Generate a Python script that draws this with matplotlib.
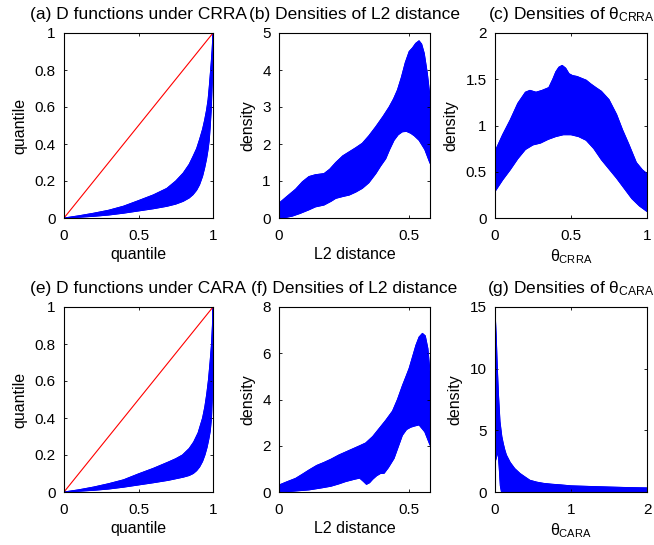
import numpy as np
import matplotlib
matplotlib.use("Agg")
import matplotlib.pyplot as plt

plt.rcParams['font.family'] = ['Liberation Sans', 'DejaVu Sans']
plt.rcParams['mathtext.fontset'] = 'custom'
plt.rcParams['mathtext.rm'] = 'Liberation Sans'
plt.rcParams['mathtext.it'] = 'Liberation Sans'
plt.rcParams['mathtext.bf'] = 'Liberation Sans:bold'

BLUE = (0, 0, 1)
RED = (1, 0, 0)

# ---------------- data ----------------
# (a) D functions under CRRA: envelope of the blue band
a_up_x = [0, 0.1, 0.2, 0.3, 0.4, 0.5, 0.6, 0.69, 0.75, 0.8, 0.84, 0.866, 0.89, 0.91, 0.93, 0.944,
          0.957, 0.967, 0.975, 0.982, 0.988, 0.994, 1.0]
a_up_y = [0, 0.012, 0.026, 0.042, 0.064, 0.094, 0.125, 0.16, 0.2, 0.243, 0.29, 0.333, 0.375, 0.425,
          0.48, 0.53, 0.585, 0.64, 0.71, 0.78, 0.84, 0.91, 1.0]
a_lo_x = [0, 0.1, 0.2, 0.3, 0.4, 0.5, 0.6, 0.69, 0.75, 0.8, 0.84, 0.866, 0.89, 0.91, 0.93, 0.944,
          0.957, 0.967, 0.975, 0.982, 0.988, 0.995, 1.0]
a_lo_y = [0, 0.004, 0.009, 0.016, 0.026, 0.038, 0.05, 0.063, 0.075, 0.09, 0.108, 0.126, 0.15, 0.18,
          0.225, 0.27, 0.32, 0.37, 0.42, 0.5, 0.58, 0.73, 1.0]

# (e) D functions under CARA
e_up_x = [0, 0.1, 0.2, 0.3, 0.4, 0.5, 0.6, 0.7, 0.75, 0.795, 0.84, 0.87, 0.9, 0.915, 0.93, 0.945,
          0.958, 0.97, 0.98, 0.99, 0.996, 1.0]
e_up_y = [0, 0.012, 0.027, 0.045, 0.066, 0.098, 0.128, 0.162, 0.18, 0.2, 0.235, 0.27, 0.32, 0.36,
          0.4, 0.46, 0.53, 0.61, 0.7, 0.8, 0.9, 1.0]
e_lo_x = [0, 0.1, 0.2, 0.3, 0.4, 0.5, 0.6, 0.7, 0.8, 0.84, 0.868, 0.89, 0.91, 0.93, 0.946, 0.96,
          0.972, 0.982, 0.99, 0.995, 1.0]
e_lo_y = [0, 0.004, 0.009, 0.016, 0.026, 0.038, 0.05, 0.063, 0.08, 0.089, 0.1, 0.115, 0.135, 0.165,
          0.2, 0.24, 0.285, 0.33, 0.4, 0.5, 1.0]

diag = [0, 1]

# (b) densities of L2 distance (CRRA)
b_up_x = [0, 0.03, 0.064, 0.09, 0.115, 0.14, 0.173, 0.195, 0.218, 0.245, 0.27, 0.295, 0.32, 0.345,
          0.372, 0.4, 0.423, 0.44, 0.455, 0.47, 0.485, 0.5, 0.513, 0.525, 0.538, 0.548, 0.558, 0.57, 0.58]
b_up_y = [0.4, 0.58, 0.78, 0.98, 1.12, 1.17, 1.2, 1.32, 1.5, 1.68, 1.79, 1.9, 2.02, 2.22,
          2.47, 2.75, 3.0, 3.22, 3.46, 3.8, 4.2, 4.5, 4.6, 4.72, 4.79, 4.7, 4.45, 3.9, 3.28]
b_lo_x = [0, 0.03, 0.051, 0.08, 0.115, 0.14, 0.173, 0.2, 0.218, 0.245, 0.27, 0.295, 0.32, 0.345,
          0.372, 0.39, 0.41, 0.425, 0.442, 0.458, 0.474, 0.49, 0.506, 0.52, 0.538, 0.56, 0.58]
b_lo_y = [0, 0.02, 0.05, 0.12, 0.22, 0.3, 0.35, 0.45, 0.53, 0.58, 0.62, 0.7, 0.8, 0.95,
          1.2, 1.4, 1.6, 1.85, 2.1, 2.25, 2.33, 2.34, 2.29, 2.22, 2.1, 1.85, 1.48]

# (c) densities of theta_CRRA
c_up_x = [0, 0.05, 0.1, 0.15, 0.2, 0.23, 0.27, 0.31, 0.354, 0.38, 0.4, 0.42, 0.442, 0.465, 0.487,
          0.51, 0.54, 0.57, 0.6, 0.63, 0.664, 0.7, 0.75, 0.8, 0.84, 0.88, 0.93, 0.97, 1.0]
c_up_y = [0.72, 0.9, 1.06, 1.24, 1.36, 1.38, 1.36, 1.38, 1.41, 1.5, 1.58, 1.63, 1.65, 1.62, 1.56,
          1.54, 1.53, 1.51, 1.49, 1.45, 1.41, 1.37, 1.28, 1.12, 0.95, 0.8, 0.6, 0.52, 0.48]
c_lo_x = [0, 0.05, 0.1, 0.15, 0.2, 0.25, 0.3, 0.35, 0.4, 0.45, 0.5, 0.55, 0.6, 0.65, 0.7, 0.75,
          0.8, 0.85, 0.9, 0.95, 1.0]
c_lo_y = [0.285, 0.41, 0.52, 0.64, 0.74, 0.79, 0.81, 0.85, 0.88, 0.9, 0.9, 0.88, 0.84, 0.75, 0.63,
          0.53, 0.43, 0.32, 0.21, 0.13, 0.07]

# (f) densities of L2 distance (CARA)
f_up_x = [0, 0.03, 0.064, 0.09, 0.115, 0.145, 0.173, 0.2, 0.23, 0.26, 0.288, 0.31, 0.333, 0.36,
          0.385, 0.41, 0.436, 0.455, 0.474, 0.488, 0.5, 0.513, 0.526, 0.538, 0.551, 0.562, 0.572, 0.58]
f_up_y = [0.3, 0.44, 0.59, 0.77, 0.95, 1.15, 1.28, 1.42, 1.6, 1.75, 1.89, 2.0, 2.12, 2.4,
          2.75, 3.1, 3.5, 4.0, 4.6, 5.0, 5.35, 5.85, 6.35, 6.7, 6.86, 6.75, 6.2, 5.2]
f_lo_x = [0, 0.05, 0.115, 0.16, 0.2, 0.23, 0.256, 0.29, 0.31, 0.325, 0.336, 0.348, 0.36, 0.375,
          0.39, 0.404, 0.42, 0.442, 0.458, 0.474, 0.49, 0.506, 0.52, 0.538, 0.56, 0.58]
f_lo_y = [0, 0.03, 0.09, 0.17, 0.25, 0.35, 0.45, 0.55, 0.6, 0.45, 0.33, 0.4, 0.55, 0.7,
          0.8, 0.81, 1.05, 1.45, 1.95, 2.45, 2.7, 2.8, 2.85, 2.9, 2.6, 2.03]

# (g) densities of theta_CARA
g_up_x = [0, 0.005, 0.01, 0.015, 0.02, 0.03, 0.045, 0.066, 0.09, 0.11, 0.13, 0.15, 0.2, 0.26, 0.33,
          0.4, 0.46, 0.55, 0.64, 0.75, 0.86, 1.0, 1.25, 1.52, 1.75, 2.0]
g_up_y = [14.3, 14.1, 13.5, 12.8, 12.0, 10.2, 8.0, 5.7, 4.5, 3.9, 3.4, 3.0, 2.4, 1.9, 1.5,
          1.2, 0.95, 0.8, 0.7, 0.63, 0.58, 0.5, 0.45, 0.4, 0.36, 0.33]
g_lo_x = [0, 0.02, 0.04, 0.055, 0.07, 0.085, 2.0]
g_lo_y = [2.4, 2.8, 3.3, 2.0, 0.5, 0.0, 0.0]

# ticks
q_ticks = [0, 0.2, 0.4, 0.6, 0.8, 1]
q_labels = ['0', '0.2', '0.4', '0.6', '0.8', '1']
unit_xticks = [0, 0.5, 1]
unit_xlabels = ['0', '0.5', '1']
l2_xticks = [0, 0.5]
l2_xlabels = ['0', '0.5']
b_yticks = [0, 1, 2, 3, 4, 5]
c_yticks = [0, 0.5, 1, 1.5, 2]
c_ylabels = ['0', '0.5', '1', '1.5', '2']
f_yticks = [0, 2, 4, 6, 8]
g_yticks = [0, 5, 10, 15]
g_xticks = [0, 1, 2]

titles = ['(a) D functions under CRRA', '(b) Densities of L2 distance', r'(c) Densities of $\theta_{\rm CRRA}$',
          '(e) D functions under CARA', '(f) Densities of L2 distance', r'(g) Densities of $\theta_{\rm CARA}$']

# ---------------- figure ----------------
W, H = 654, 545
fig = plt.figure(figsize=(W / 100, H / 100), dpi=100)

def px_axes(l, r, t, b):
    return fig.add_axes([l / W, 1 - b / H, (r - l) / W, (b - t) / H])

cols = [(64, 213), (279, 430), (495, 647)]
rows = [(33, 218), (307, 492)]

axes = []
for (t, b) in rows:
    for (l, r) in cols:
        axes.append(px_axes(l, r, t, b))

TF = 12.5
LF = 11.5
KF = 11

def style(ax, title, xlabel, ylabel):
    ax.set_title(title, fontsize=TF, pad=10)
    ax.set_xlabel(xlabel, fontsize=LF, labelpad=3)
    ax.set_ylabel(ylabel, fontsize=LF, labelpad=5)
    ax.tick_params(direction='in', length=2.5, width=0.6, top=True, right=True, labelsize=KF)
    ax.tick_params(axis='x', pad=8)
    ax.tick_params(axis='y', pad=6)
    for s in ax.spines.values():
        s.set_linewidth(0.8)

def band(ax, ux, uy, lx, ly):
    px = np.concatenate([ux, lx[::-1]])
    py = np.concatenate([uy, ly[::-1]])
    ax.fill(px, py, facecolor=BLUE, edgecolor=BLUE, lw=0.6)
    ax.plot(ux, uy, color=BLUE, lw=0.7)
    ax.plot(lx, ly, color=BLUE, lw=0.7)

# (a)
ax = axes[0]
band(ax, np.array(a_up_x), np.array(a_up_y), np.array(a_lo_x), np.array(a_lo_y))
ax.plot(diag, diag, color=RED, lw=0.8)
ax.set_xlim(0, 1); ax.set_ylim(0, 1)
ax.set_xticks(unit_xticks); ax.set_xticklabels(unit_xlabels)
ax.set_yticks(q_ticks); ax.set_yticklabels(q_labels)
style(ax, titles[0], 'quantile', 'quantile')

# (b)
ax = axes[1]
band(ax, np.array(b_up_x), np.array(b_up_y), np.array(b_lo_x), np.array(b_lo_y))
ax.set_xlim(0, 0.58); ax.set_ylim(0, 5)
ax.set_xticks(l2_xticks); ax.set_xticklabels(l2_xlabels)
ax.set_yticks(b_yticks); ax.set_yticklabels([str(v) for v in b_yticks])
style(ax, titles[1], 'L2 distance', 'density')

# (c)
ax = axes[2]
band(ax, np.array(c_up_x), np.array(c_up_y), np.array(c_lo_x), np.array(c_lo_y))
ax.set_xlim(0, 1); ax.set_ylim(0, 2)
ax.set_xticks(unit_xticks); ax.set_xticklabels(unit_xlabels)
ax.set_yticks(c_yticks); ax.set_yticklabels(c_ylabels)
style(ax, titles[2], r'$\theta_{\rm CRRA}$', 'density')

# (e)
ax = axes[3]
band(ax, np.array(e_up_x), np.array(e_up_y), np.array(e_lo_x), np.array(e_lo_y))
ax.plot(diag, diag, color=RED, lw=0.8)
ax.set_xlim(0, 1); ax.set_ylim(0, 1)
ax.set_xticks(unit_xticks); ax.set_xticklabels(unit_xlabels)
ax.set_yticks(q_ticks); ax.set_yticklabels(q_labels)
style(ax, titles[3], 'quantile', 'quantile')

# (f)
ax = axes[4]
band(ax, np.array(f_up_x), np.array(f_up_y), np.array(f_lo_x), np.array(f_lo_y))
ax.set_xlim(0, 0.58); ax.set_ylim(0, 8)
ax.set_xticks(l2_xticks); ax.set_xticklabels(l2_xlabels)
ax.set_yticks(f_yticks); ax.set_yticklabels([str(v) for v in f_yticks])
style(ax, titles[4], 'L2 distance', 'density')

# (g)
ax = axes[5]
band(ax, np.array(g_up_x), np.array(g_up_y), np.array(g_lo_x), np.array(g_lo_y))
ax.set_xlim(0, 2); ax.set_ylim(0, 15)
ax.set_xticks(g_xticks); ax.set_xticklabels([str(v) for v in g_xticks])
ax.set_yticks(g_yticks); ax.set_yticklabels([str(v) for v in g_yticks])
style(ax, titles[5], r'$\theta_{\rm CARA}$', 'density')

fig.savefig('out.png', dpi=100)
